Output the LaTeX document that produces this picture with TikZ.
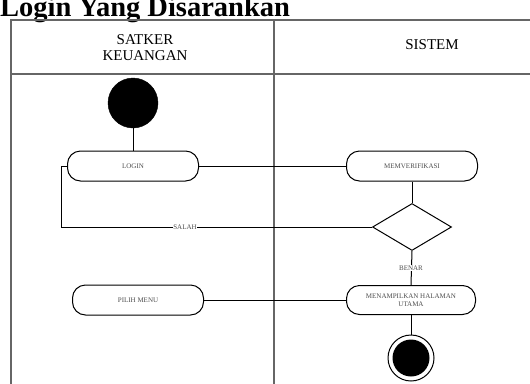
\documentclass[tikz,border=0pt]{standalone}
\usepackage{fontspec}
\setmainfont{Liberation Serif}
\usetikzlibrary{shapes.geometric}

\begin{document}
\begin{tikzpicture}[x=1pt,y=-1pt,
  lane/.style={draw=black!60, line width=1.6pt},
  activity/.style={draw, rectangle, rounded corners=13pt, line width=1pt, minimum width=131pt, minimum height=30pt, align=center, font=\fontsize{7}{8}\selectfont, text=black!70, inner sep=1pt},
  flow/.style={draw, line width=1pt},
  guard/.style={fill=white, inner sep=0.5pt, font=\fontsize{7}{8}\selectfont, text=black!70}]
\useasboundingbox (0,0) rectangle (530,383);
% Judul
\node[anchor=base west, inner sep=0, font=\bfseries\fontsize{28.5}{30}\selectfont] (title) at (0,16) {Login Yang Disarankan};
% Swimlane
\draw[lane] (11,400) -- (11,20) -- (600,20);
\draw[lane] (274,20) -- (274,400);
\draw[lane] (11,74) -- (600,74);
\node[align=center, font=\fontsize{15}{16}\selectfont] (lane-satker) at (145,48) {SATKER\\KEUANGAN};
\node[font=\fontsize{15}{15}\selectfont] (lane-sistem) at (432,45) {SISTEM};
% Start
\node[draw, circle, fill=black, minimum size=50pt, inner sep=0] (start) at (133,103) {};
% Aktivitas
\node[activity] (login) at (133,166) {LOGIN};
\node[activity] (verifikasi) at (412,166) {MEMVERIFIKASI};
\node[draw, diamond, line width=1pt, minimum width=79pt, minimum height=47pt, inner sep=0] (cek) at (412,227) {};
\node[activity] (pilih-menu) at (138,300) {PILIH MENU};
\node[activity, minimum width=129pt, minimum height=29pt] (halaman) at (411,300) {MENAMPILKAN HALAMAN\\UTAMA};
% End
\node[draw, circle, line width=1pt, minimum size=46pt, inner sep=0, path picture={\fill (path picture bounding box.center) circle (18.5pt);}] (end) at (411,358) {};
% Alur
\coordinate (loop-top) at (61,166);
\coordinate (loop-bottom) at (61,227);
\draw[flow] (start) -- (login);
\draw[flow] (login) -- (verifikasi);
\draw[flow] (verifikasi) -- (cek);
\draw[flow] (cek.west) -- (loop-bottom) -- (loop-top) -- (login.west);
\node[guard] (salah) at (185,227) {SALAH};
\draw[flow] (cek.south) -- (halaman.north);
\node[guard] (benar) at (411,268) {BENAR};
\draw[flow] (pilih-menu) -- (halaman);
\draw[flow] (halaman) -- (end);
\end{tikzpicture}
\end{document}
